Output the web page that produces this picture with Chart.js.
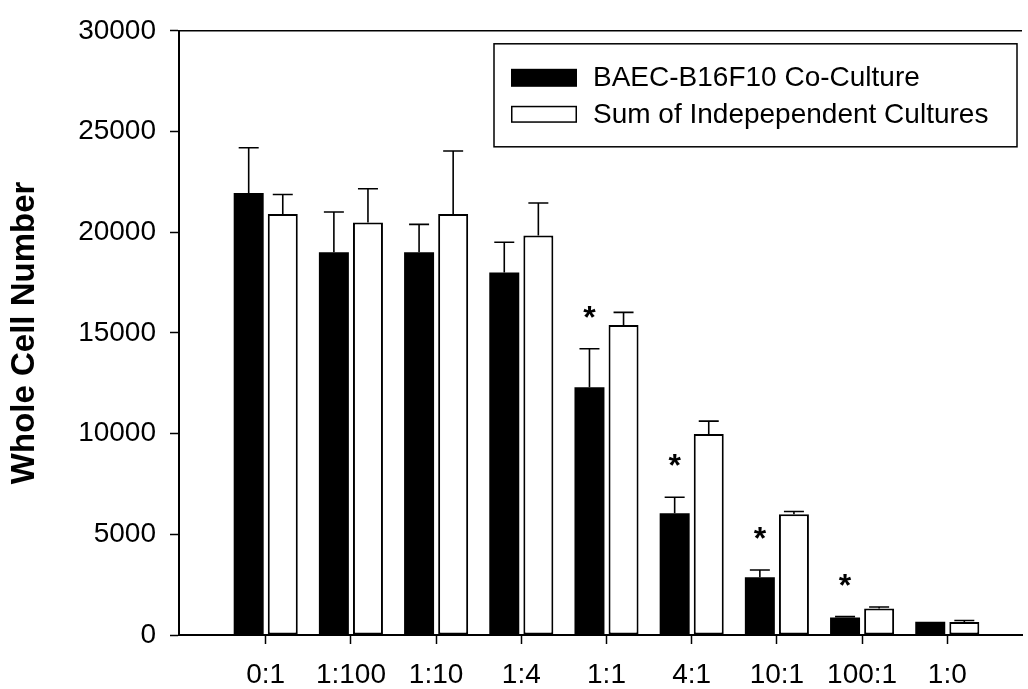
<!DOCTYPE html>
<html><head><meta charset="utf-8">
<script src="https://cdn.jsdelivr.net/npm/chart.js@4/dist/chart.umd.min.js"></script>
<style>html,body{margin:0;padding:0;background:#fff;}#wrap{width:1028px;height:689px;position:relative;}</style>
</head><body><div id="wrap"><canvas id="c" width="1028" height="689"></canvas></div>
<script>
const categories = ['0:1','1:100','1:10','1:4','1:1','4:1','10:1','100:1','1:0'];
const coCulture = [21950, 19000, 19000, 18000, 12300, 6050, 2870, 870, 660];
const coCultureErr = [2240, 2000, 1390, 1500, 1910, 790, 360, 40, 0];
const sumIndependent = [20900, 20480, 20900, 19830, 15390, 9980, 6000, 1320, 640];
const sumIndependentErr = [970, 1680, 3130, 1620, 630, 640, 130, 70, 80];
const significant = [false, false, false, false, true, true, true, true, false];
const yTicks = [0, 5000, 10000, 15000, 20000, 25000, 30000];
const seriesLabels = ['BAEC-B16F10 Co-Culture', 'Sum of Indepependent Cultures'];

const FONT = "'Liberation Sans', Arial, Helvetica, sans-serif";
const errs = [coCultureErr, sumIndependentErr];
const vals = [coCulture, sumIndependent];

const decor = {
  id: 'decor',
  afterDatasetsDraw(chart) {
    const ctx = chart.ctx, ca = chart.chartArea, ys = chart.scales.y;
    ctx.save();
    ctx.strokeStyle = '#000'; ctx.lineWidth = 1.5;
    ctx.beginPath(); ctx.moveTo(ca.left, ca.top); ctx.lineTo(ca.right, ca.top); ctx.stroke();
    ctx.lineWidth = 1.6;
    for (let d = 0; d < 2; d++) {
      const meta = chart.getDatasetMeta(d);
      meta.data.forEach((el, i) => {
        const e = errs[d][i];
        if (!e) return;
        const yt = ys.getPixelForValue(vals[d][i] + e);
        ctx.beginPath();
        ctx.moveTo(el.x, el.y); ctx.lineTo(el.x, yt);
        ctx.moveTo(el.x - 10, yt); ctx.lineTo(el.x + 10, yt);
        ctx.stroke();
      });
    }
    const m0 = chart.getDatasetMeta(0);
    ctx.fillStyle = '#000'; ctx.font = 'bold 32px ' + FONT;
    ctx.textAlign = 'center'; ctx.textBaseline = 'alphabetic';
    significant.forEach((s, i) => {
      if (!s) return;
      const yt = ys.getPixelForValue(coCulture[i] + coCultureErr[i]);
      ctx.fillText('*', m0.data[i].x, yt - 21);
    });
    const bx = ca.right - 528, by = ca.top + 13, bw = 523, bh = 103;
    ctx.lineWidth = 1.5; ctx.strokeStyle = '#000';
    ctx.fillStyle = '#fff'; ctx.fillRect(bx, by, bw, bh);
    ctx.strokeRect(bx, by, bw, bh);
    ctx.fillStyle = '#000'; ctx.fillRect(bx + 17, by + 25, 66, 18);
    ctx.fillStyle = '#fff'; ctx.fillRect(bx + 17, by + 62, 66, 17);
    ctx.strokeRect(bx + 17.75, by + 62.75, 64.5, 15.5);
    ctx.fillStyle = '#000'; ctx.font = '28px ' + FONT;
    ctx.textAlign = 'left'; ctx.textBaseline = 'alphabetic';
    ctx.fillText(seriesLabels[0], bx + 99, by + 42.5);
    ctx.fillText(seriesLabels[1], bx + 99, by + 79);
    ctx.restore();
  }
};

new Chart(document.getElementById('c'), {
  type: 'bar',
  data: {
    datasets: [
      { label: seriesLabels[0], data: coCulture.map((v, i) => ({ x: i, y: v })),
        backgroundColor: '#000', borderWidth: 0 },
      { label: seriesLabels[1], data: sumIndependent.map((v, i) => ({ x: i, y: v })),
        backgroundColor: '#fff', borderColor: '#000', borderWidth: 2, borderSkipped: false }
    ]
  },
  options: {
    responsive: false, animation: false, devicePixelRatio: 1,
    categoryPercentage: 0.8, barPercentage: 0.88,
    layout: { padding: { top: 28, right: 6, left: 0, bottom: 0 } },
    plugins: { legend: { display: false }, tooltip: { enabled: false } },
    scales: {
      x: {
        type: 'linear', min: -1.018, max: 8.877, offset: false,
        afterBuildTicks: s => { s.ticks = categories.map((_, i) => ({ value: i })); },
        afterFit: s => { s.height = 54; },
        ticks: { callback: (v) => categories[v] !== undefined ? categories[v] : '',
          font: { size: 28, family: FONT }, color: '#000', padding: 14, maxRotation: 0, autoSkip: false },
        grid: { offset: false, drawOnChartArea: false, drawTicks: true, tickLength: 9, tickColor: '#000', tickWidth: 1.5 },
        border: { display: true, color: '#000', width: 2 }
      },
      y: {
        min: 0, max: 30000,
        afterBuildTicks: s => { s.ticks = yTicks.map(v => ({ value: v })); },
        afterFit: s => { s.width = 179; },
        ticks: { font: { size: 28, family: FONT }, color: '#000', padding: 14, callback: v => String(v) },
        grid: { drawOnChartArea: false, drawTicks: true, tickLength: 9, tickColor: '#000', tickWidth: 1.5 },
        border: { display: true, color: '#000', width: 2 },
        title: { display: true, text: 'Whole Cell Number', color: '#000',
          font: { size: 33, weight: 'bold', family: FONT }, padding: { top: 5, bottom: 0 } }
      }
    }
  },
  plugins: [decor]
});
</script>
</body></html>
